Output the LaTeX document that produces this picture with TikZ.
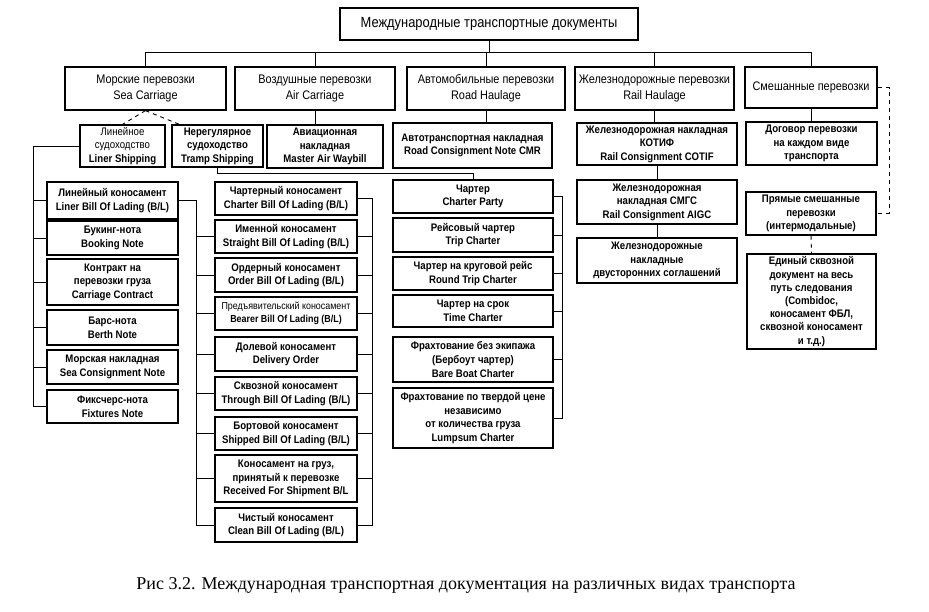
\documentclass[tikz,border=0pt]{standalone}
\usepackage{fontspec}
\setmainfont{Liberation Sans}
\newfontfamily\bxfont{Liberation Sans}[FakeStretch=0.88]
\newfontfamily\capfont{Liberation Serif}
\newcommand\mkbox[7][]{\node[box,#1,minimum width={(#5-#3)*0.75pt},minimum height={(#6-#4)*0.75pt}] (#2) at ({(#3+#5)/2},{(#4+#6)/2}) {#7};}
\begin{document}
\begin{tikzpicture}[x=0.75pt,y=-0.75pt,
  box/.style={draw,line width=0.9pt,align=center,inner xsep=1pt,inner ysep=0pt,
     font=\bxfont\bfseries\fontsize{8.2}{10.2}\selectfont},
  lvl/.style={font=\bxfont\fontsize{9.3}{12}\selectfont},
  ttl/.style={font=\bxfont\fontsize{11}{13}\selectfont},
  thin/.style={font=\bxfont\fontsize{7.6}{10.2}\selectfont},
  conn/.style={line width=0.7pt}]
\useasboundingbox (0,0) rectangle (929,611);
% title and level 2
\mkbox[ttl]{t}{340}{8}{638}{40}{Международные транспортные документы}
\mkbox[lvl]{sea}{65}{67}{226}{110}{Морские перевозки\\Sea Carriage}
\mkbox[lvl]{air}{235}{67}{395}{110}{Воздушные перевозки\\Air Carriage}
\mkbox[lvl]{road}{407}{67}{565}{110}{Автомобильные перевозки\\Road Haulage}
\mkbox[lvl]{rail}{575}{67}{734}{110}{Железнодорожные перевозки\\Rail Haulage}
\mkbox[lvl]{mix}{745}{67}{877}{108}{Смешанные перевозки}
% level 3
\mkbox{liner}{80}{125}{165}{167}{\mdseries Линейное\\\mdseries судоходство\\Liner Shipping}
\mkbox{tramp}{172}{125}{263}{167}{Нерегулярное\\судоходство\\Tramp Shipping}
\mkbox{awb}{267}{125}{383}{168}{Авиационная\\накладная\\Master Air Waybill}
\mkbox{cmr}{393}{123}{552}{168}{Автотранспортная накладная\\Road Consignment Note CMR}
\mkbox{cotif}{577}{123}{737}{165}{Железнодорожная накладная\\КОТИФ\\Rail Consignment COTIF}
\mkbox{dog}{746}{122}{877}{165}{Договор перевозки\\на каждом виде\\транспорта}
% left column
\mkbox{lbl}{47}{182}{178}{219}{Линейный коносамент\\Liner Bill Of Lading (B/L)}
\mkbox{book}{47}{221}{178}{255}{Букинг-нота\\Booking Note}
\mkbox{contr}{47}{259}{178}{305}{Контракт на\\перевозки груза\\Carriage Contract}
\mkbox{berth}{47}{310}{178}{345}{Барс-нота\\Berth Note}
\mkbox{scons}{47}{350}{178}{384}{Морская накладная\\Sea Consignment Note}
\mkbox{fix}{47}{390}{178}{423}{Фиксчерс-нота\\Fixtures Note}
% middle column
\mkbox{chbl}{215}{182}{357}{215}{Чартерный коносамент\\Charter Bill Of Lading (B/L)}
\mkbox{imen}{215}{220}{357}{253}{Именной коносамент\\Straight Bill Of Lading (B/L)}
\mkbox{order}{215}{258}{357}{292}{Ордерный коносамент\\Order Bill Of Lading (B/L)}
\mkbox[thin]{bearer}{215}{297}{357}{330}{Предъявительский коносамент\\\bfseries Bearer Bill Of Lading (B/L)}
\mkbox{dolev}{215}{337}{357}{371}{Долевой коносамент\\Delivery Order}
\mkbox{through}{215}{377}{357}{410}{Сквозной коносамент\\Through Bill Of Lading (B/L)}
\mkbox{shipped}{215}{417}{357}{450}{Бортовой коносамент\\Shipped Bill Of Lading (B/L)}
\mkbox{recv}{215}{455}{357}{502}{Коносамент на груз,\\принятый к перевозке\\Received For Shipment B/L}
\mkbox{clean}{215}{508}{357}{542}{Чистый коносамент\\Clean Bill Of Lading (B/L)}
% charter column
\mkbox{cp}{393}{180}{553}{213}{Чартер\\Charter Party}
\mkbox{trip}{393}{218}{553}{252}{Рейсовый чартер\\Trip Charter}
\mkbox{round}{393}{257}{553}{290}{Чартер на круговой рейс\\Round Trip Charter}
\mkbox{time}{393}{295}{553}{327}{Чартер на срок\\Time Charter}
\mkbox{bare}{393}{337}{553}{382}{Фрахтование без экипажа\\(Бербоут чартер)\\Bare Boat Charter}
\mkbox{lump}{393}{388}{553}{448}{Фрахтование по твердой цене\\независимо\\от количества груза\\Lumpsum Charter}
% rail column
\mkbox{smgs}{577}{180}{737}{224}{Железнодорожная\\накладная СМГС\\Rail Consignment AIGC}
\mkbox{dvu}{577}{238}{737}{283}{Железнодорожные\\накладные\\двусторонних соглашений}
% mixed column
\mkbox{pr}{746}{192}{876}{235}{Прямые смешанные\\перевозки\\(интермодальные)}
\mkbox[font=\bxfont\bfseries\fontsize{8.2}{9.9}\selectfont]{edin}{747}{254}{876}{349}{Единый сквозной\\документ на весь\\путь следования\\(Combidoc,\\коносамент ФБЛ,\\сквозной коносамент\\и т.д.)}
% caption
\node[font=\capfont\fontsize{13.5}{16}\selectfont] (cap) at (466,585) {Рис 3.2. Международная транспортная документация на различных видах транспорта};
% connectors
\coordinate (bus) at (0,52);
\draw[conn] (t.south) -- (t.south |- bus);
\draw[conn] (sea.north) -- (sea.north |- bus) -- (mix.north |- bus) -- (mix.north);
\foreach \n in {air,road,rail} \draw[conn] (\n.north) -- (\n.north |- bus);
\draw[conn,dashed] (sea.south) -- (liner.north);
\draw[conn,dashed] (sea.south) -- ([xshift=6pt]tramp.north west);
\foreach \a/\b in {air/awb,road/cmr,rail/cotif,mix/dog} \draw[conn] (\a.south) -- (\a.south |- \b.north);
\draw[conn] (tramp.south) -- (tramp.south |- 0,173) -| (cp.north);
% left bus
\coordinate (bl) at (33,0);
\draw[conn] (liner.west) -- (liner.west -| bl) |- (fix.west);
\foreach \n in {lbl,book,contr,berth,scons} \draw[conn] (\n.west) -- (\n.west -| bl);
% middle buses
\coordinate (bm) at (196,0);
\coordinate (br) at (372,0);
\draw[conn] (lbl.east) -- (lbl.east -| bm) |- (clean.west);
\draw[conn] (chbl.east) -- (chbl.east -| br) |- (clean.east);
\foreach \n in {imen,order,bearer,dolev,through,shipped,recv} {
  \draw[conn] (\n.west) -- (\n.west -| bm);
  \draw[conn] (\n.east) -- (\n.east -| br);
}
% charter bus
\coordinate (bc) at (562,0);
\draw[conn] (cp.east) -- (cp.east -| bc) |- (lump.east);
\foreach \n in {trip,round,time,bare} \draw[conn] (\n.east) -- (\n.east -| bc);
% rail
\draw[conn] (cotif.south) -- (smgs.north);
\draw[conn] (smgs.south) -- (dvu.north);
% mixed
\coordinate (bx) at (889,0);
\draw[conn,dashed] (mix.east) -- (mix.east -| bx) |- (pr.east);
\draw[conn,dashed] (pr.south) -- (edin.north);
\end{tikzpicture}
\end{document}
